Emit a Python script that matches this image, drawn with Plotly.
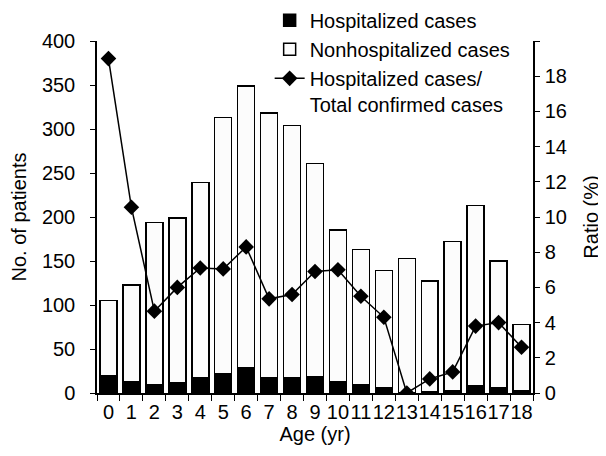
import plotly.graph_objects as go

ages = [str(i) for i in range(19)]
hospitalized = [20, 13, 9, 12, 17, 22, 29, 17, 17, 18, 13, 9, 6, 0, 1, 2, 8, 6, 2]
nonhospitalized = [85, 110, 185, 187, 222, 291, 320, 301, 287, 243, 172, 154, 133, 153, 126, 170, 205, 144, 76]
ratio = [19.0, 10.55, 4.65, 6.0, 7.1, 7.05, 8.3, 5.35, 5.6, 6.9, 7.0, 5.5, 4.3, 0.0, 0.8, 1.2, 3.8, 4.0, 2.6]

left_ticks = [0, 50, 100, 150, 200, 250, 300, 350, 400]
right_ticks = [0, 2, 4, 6, 8, 10, 12, 14, 16, 18, 20]
right_text = [str(v) for v in right_ticks[:-1]] + [""]

FONT = "Liberation Sans, Arial, sans-serif"
FS = 20

fig = go.Figure()
fig.add_trace(go.Bar(
    x=ages, y=hospitalized, name="Hospitalized cases",
    marker=dict(color="black", line=dict(color="black", width=1.5)),
    width=0.74,
))
fig.add_trace(go.Bar(
    x=ages, y=nonhospitalized, name="Nonhospitalized cases",
    marker=dict(color="#fcfcfc", line=dict(color="black", width=1.5)),
    width=0.74,
))
fig.add_trace(go.Scatter(
    x=ages, y=ratio, name="Hospitalized cases/<br>Total confirmed cases",
    mode="lines+markers", yaxis="y2",
    line=dict(color="black", width=1.5),
    marker=dict(symbol="diamond", size=12, color="black"),
))

fig.update_layout(
    width=606, height=456,
    margin=dict(l=89, r=81, t=33, b=71, autoexpand=False),
    barmode="stack",
    plot_bgcolor="white", paper_bgcolor="white",
    font=dict(family=FONT, size=FS, color="black"),
    showlegend=True,
    legend=dict(
        x=0.396, y=1.114, xanchor="left", yanchor="top", yref="paper",
        bgcolor="rgba(0,0,0,0)", font=dict(size=FS),
        valign="top", tracegroupgap=0, traceorder="normal",
    ),
    xaxis=dict(
        type="category", showline=True, linecolor="black", linewidth=1.5,
        ticks="outside", ticklen=6, tickcolor="black", tickwidth=1.2,
        tickson="boundaries", tickfont=dict(size=FS), tickangle=0,
        tickmode="array", tickvals=ages, ticktext=ages,
        title=dict(text="Age (yr)", font=dict(size=FS), standoff=3),
        range=[-0.5, 18.5], showgrid=False, zeroline=False,
    ),
    yaxis=dict(
        range=[0, 400], tickvals=left_ticks, showline=True, linecolor="black",
        linewidth=1.5, ticks="outside", ticklen=5, tickcolor="black", tickwidth=1.2,
        tickfont=dict(size=FS), ticklabelstandoff=11,
        title=dict(text="No. of patients", font=dict(size=FS), standoff=10),
        showgrid=False, zeroline=False,
    ),
    yaxis2=dict(
        range=[0, 20], tickvals=right_ticks, ticktext=right_text,
        overlaying="y", side="right", showline=True, linecolor="black",
        linewidth=1.5, ticks="outside", ticklen=5, tickcolor="black", tickwidth=1.2,
        tickfont=dict(size=FS), ticklabelstandoff=1,
        title=dict(text="Ratio (%)", font=dict(size=FS), standoff=18),
        showgrid=False, zeroline=False,
    ),
)

fig.write_html("out.html")
